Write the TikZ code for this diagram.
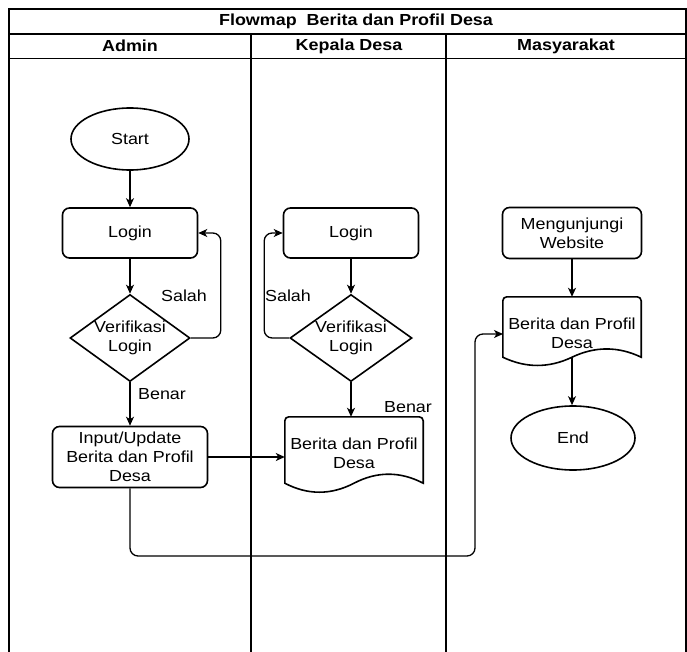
\documentclass[tikz,border=0pt]{standalone}
\usepackage{fontspec}
\setmainfont{Liberation Sans}[FakeStretch=1.12]
\usetikzlibrary{shapes.geometric,arrows.meta}
\newcommand\fsz{\fontsize{16}{19}\selectfont}
\begin{document}
\begin{tikzpicture}[x=1pt,y=-1pt,
  laneline/.style={line width=1.3pt},
  thinline/.style={line width=0.8pt},
  rbox/.style={draw,line width=1.6pt,rounded corners=7pt,align=center,inner sep=1pt,font=\fsz},
  term/.style={draw,ellipse,line width=1.6pt,inner sep=0pt,font=\fsz},
  dia/.style={draw,diamond,aspect=1.4,line width=1.6pt,inner sep=0pt,align=center,font=\fsz},
  docnode/.style={inner sep=0pt},
  doctext/.style={inner sep=0pt,align=center,font=\fsz},
  docline/.style={line width=1.6pt},
  flow/.style={line width=1.3pt,-{Stealth[length=9pt,width=8pt,inset=2.5pt]},rounded corners=8pt},
  lbl/.style={font=\fsz,inner sep=0pt},
  hdr/.style={font=\fsz\bfseries,inner sep=0pt}
]
\useasboundingbox (0,0) rectangle (687,652);
% frame and lanes
\draw[laneline] (9,652) -- (9,9) -- (686,9) -- (686,652);
\draw[laneline] (9,34) -- (686,34);
\draw[thinline] (9,58) -- (686,58);
\draw[laneline] (251,34) -- (251,652);
\draw[laneline] (446,34) -- (446,652);
\node[hdr] (title) at (356,21) {Flowmap\ \ Berita dan Profil Desa};
\node[hdr] (h1) at (130,46) {Admin};
\node[hdr] (h2) at (349,46) {Kepala Desa};
\node[hdr] (h3) at (566,46) {Masyarakat};

% Admin lane
\node[term,minimum width=118pt,minimum height=62pt] (start) at (130,139) {Start};
\node[rbox,minimum width=135pt,minimum height=50pt] (login1) at (130,233) {Login};
\node[dia,minimum width=120pt,minimum height=87pt] (d1) at (130,338) {Verifikasi\\Login};
\node[rbox,minimum width=155pt,minimum height=61pt] (input) at (130,457) {Input/Update\\Berita dan Profil\\Desa};

% Kepala Desa lane
\node[rbox,minimum width=135pt,minimum height=50pt] (login2) at (351,233) {Login};
\node[dia,minimum width=122pt,minimum height=87pt] (d2) at (351,338) {Verifikasi\\Login};
\node[docnode,minimum width=138pt,minimum height=66pt] (doc2) at (354,450) {};
\draw[docline] (doc2.south west) [rounded corners=4pt] -- (doc2.north west) -- (doc2.north east) [sharp corners] -- (doc2.south east)
  .. controls +(-23,-12) and +(23,-12) .. (doc2.south)
  .. controls +(-23,12) and +(23,12) .. (doc2.south west) -- cycle;
\node[doctext] (doc2t) at (354,453) {Berita dan Profil\\Desa};

% Masyarakat lane
\node[rbox,minimum width=139pt,minimum height=51pt] (web) at (572,233) {Mengunjungi\\Website};
\node[docnode,minimum width=138pt,minimum height=60pt] (doc3) at (572,327) {};
\draw[docline] (doc3.south west) [rounded corners=4pt] -- (doc3.north west) -- (doc3.north east) [sharp corners] -- (doc3.south east)
  .. controls +(-23,-11) and +(23,-11) .. (doc3.south)
  .. controls +(-23,11) and +(23,11) .. (doc3.south west) -- cycle;
\node[doctext] (doc3t) at (572,333) {Berita dan Profil\\Desa};
\node[term,minimum width=124pt,minimum height=64pt] (end) at (573,438) {End};

% labels
\node[lbl] (s1) at (184,296) {Salah};
\node[lbl] (b1) at (162,394) {Benar};
\node[lbl] (s2) at (288,296) {Salah};
\node[lbl] (b2) at (408,407) {Benar};

% connectors
\draw[flow] (start) -- (login1);
\draw[flow] (login1) -- (d1);
\draw[flow] (d1.east) -- ++(30,0) |- (login1.east);
\draw[flow] (d1) -- (input);
\draw[flow] (input.east) -- (input.east -| doc2.west);
\draw[flow] (login2) -- (d2);
\draw[flow] (d2.west) -- ++(-25,0) |- (login2.west);
\draw[flow] (d2.south) -- (d2.south |- doc2.north);
\coordinate (bend) at (475,556);
\coordinate (in3) at (503,334);
\draw[flow] (input.south) |- (bend) |- (in3);
\draw[flow] (web) -- (doc3);
\draw[flow] (doc3.south) -- (doc3.south |- end.north);
\end{tikzpicture}
\end{document}
